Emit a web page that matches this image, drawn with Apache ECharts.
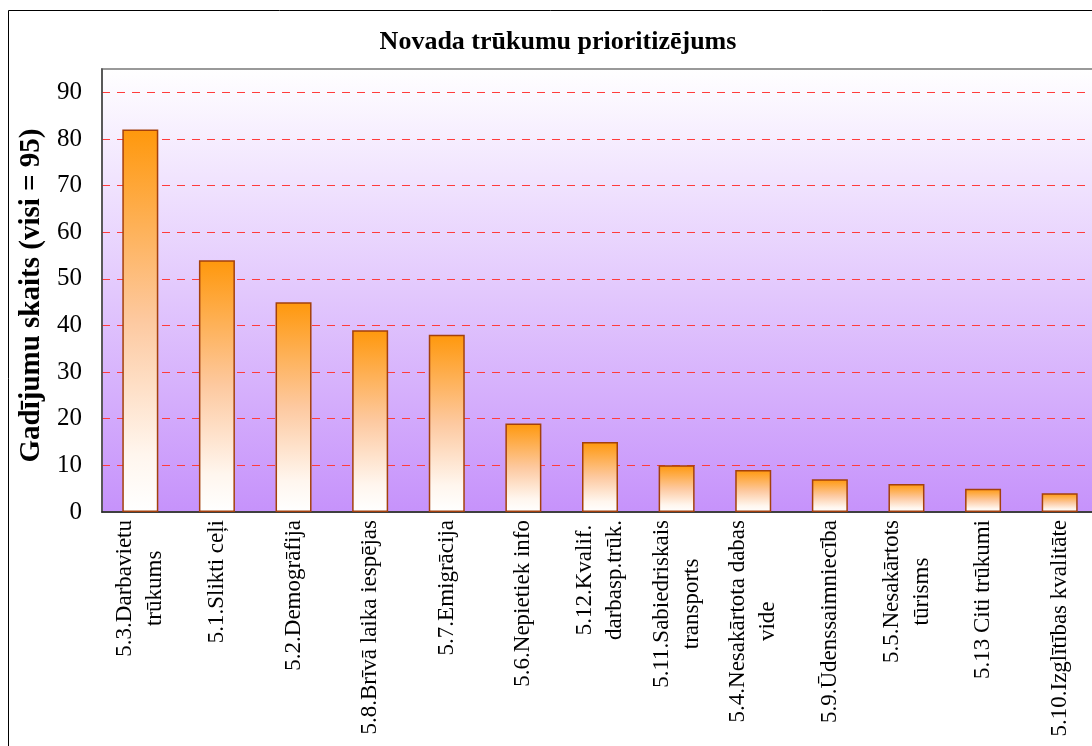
<!DOCTYPE html>
<html>
<head>
<meta charset="utf-8">
<script src="https://cdn.jsdelivr.net/npm/echarts@6/dist/echarts.min.js"></script>
<style>
  html, body { margin: 0; padding: 0; background: #fff; }
  #chart { width: 1092px; height: 746px; }
</style>
</head>
<body>
<div id="chart"></div>
<script>
// kategorijas (trūkumi) un gadījumu skaits
var categories = [
  '5.3.Darbavietu\ntrūkums',
  '5.1.Slikti ceļi',
  '5.2.Demogrāfija',
  '5.8.Brīvā laika iespējas',
  '5.7.Emigrācija',
  '5.6.Nepietiek info',
  '5.12.Kvalif.\ndarbasp.trūk.',
  '5.11.Sabiedriskais\ntransports',
  '5.4.Nesakārtota dabas\nvide',
  '5.9.Ūdenssaimniecība',
  '5.5.Nesakārtots\ntūrisms',
  '5.13 Citi trūkumi',
  '5.10.Izglītības kvalitāte'
]
var counts = [82, 54, 45, 39, 38, 19, 15, 10, 9, 7, 6, 5, 4]

var serif = "'Liberation Serif', 'Times New Roman', serif"

var chartDom = document.getElementById('chart')
var myChart = echarts.init(chartDom)
var option = {
  animation: false,
  backgroundColor: '#fff',
  title: {
    text: 'Novada trūkumu prioritizējums',
    left: 553,
    top: 24,
    textAlign: 'center',
    textStyle: {
      fontFamily: serif,
      fontWeight: 'bold',
      fontSize: 26,
      color: '#000'
    }
  },
  graphic: [
    {
      type: 'rect',
      silent: true,
      shape: { x: 8.5, y: 10.5, width: 1200, height: 1000 },
      style: { fill: 'none', stroke: '#000', lineWidth: 1 }
    }
  ],
  grid: {
    left: 102,
    top: 69,
    width: 996,
    bottom: 234,
    outerBoundsMode: 'none',
    containLabel: false,
    show: true,
    borderWidth: 2,
    borderColor: '#999',
    backgroundColor: new echarts.graphic.LinearGradient(0, 0, 0, 1, [
      { offset: 0, color: '#ffffff' },
      { offset: 1, color: '#c692fb' }
    ])
  },
  xAxis: {
    type: 'category',
    data: categories,
    axisLine: { lineStyle: { color: '#222', width: 1.5 } },
    axisTick: { show: false },
    axisLabel: {
      interval: 0,
      rotate: 90,
      margin: 8,
      color: '#000',
      fontFamily: serif,
      fontSize: 23,
      lineHeight: 30,
      formatter: function(value) {
        return value.split('\n').map(function(s) { return '{c|' + s + '}' }).join('\n')
      },
      rich: {
        c: { align: 'center', fontFamily: serif, fontSize: 23, lineHeight: 30, color: '#000' }
      }
    }
  },
  yAxis: {
    type: 'value',
    min: 0,
    max: 95,
    interval: 10,
    name: 'Gadījumu skaits (visi = 95)',
    nameLocation: 'middle',
    nameGap: 44,
    nameTextStyle: {
      fontFamily: serif,
      fontWeight: 'bold',
      fontSize: 29,
      color: '#000',
      padding: [0, 10, 0, 0]
    },
    axisLine: { show: true, lineStyle: { color: '#444', width: 1.5 } },
    axisTick: { show: false },
    axisLabel: {
      margin: 20,
      showMaxLabel: false,
      color: '#000',
      fontFamily: serif,
      fontSize: 25
    },
    splitLine: {
      show: true,
      showMinLine: false,
      showMaxLine: false,
      lineStyle: { color: '#ff3c3c', type: [8, 7], width: 1.2 }
    }
  },
  series: [
    {
      type: 'bar',
      data: counts,
      barWidth: 36,
      itemStyle: {
        borderColor: '#a4400c',
        borderWidth: 1.5,
        color: new echarts.graphic.LinearGradient(0, 0, 0, 1, [
          { offset: 0, color: '#ff980c' },
          { offset: 0.5, color: '#fdc9a0' },
          { offset: 0.85, color: '#fff6ee' },
          { offset: 1, color: '#ffffff' }
        ])
      }
    }
  ]
}
option && myChart.setOption(option)
</script>
</body>
</html>
